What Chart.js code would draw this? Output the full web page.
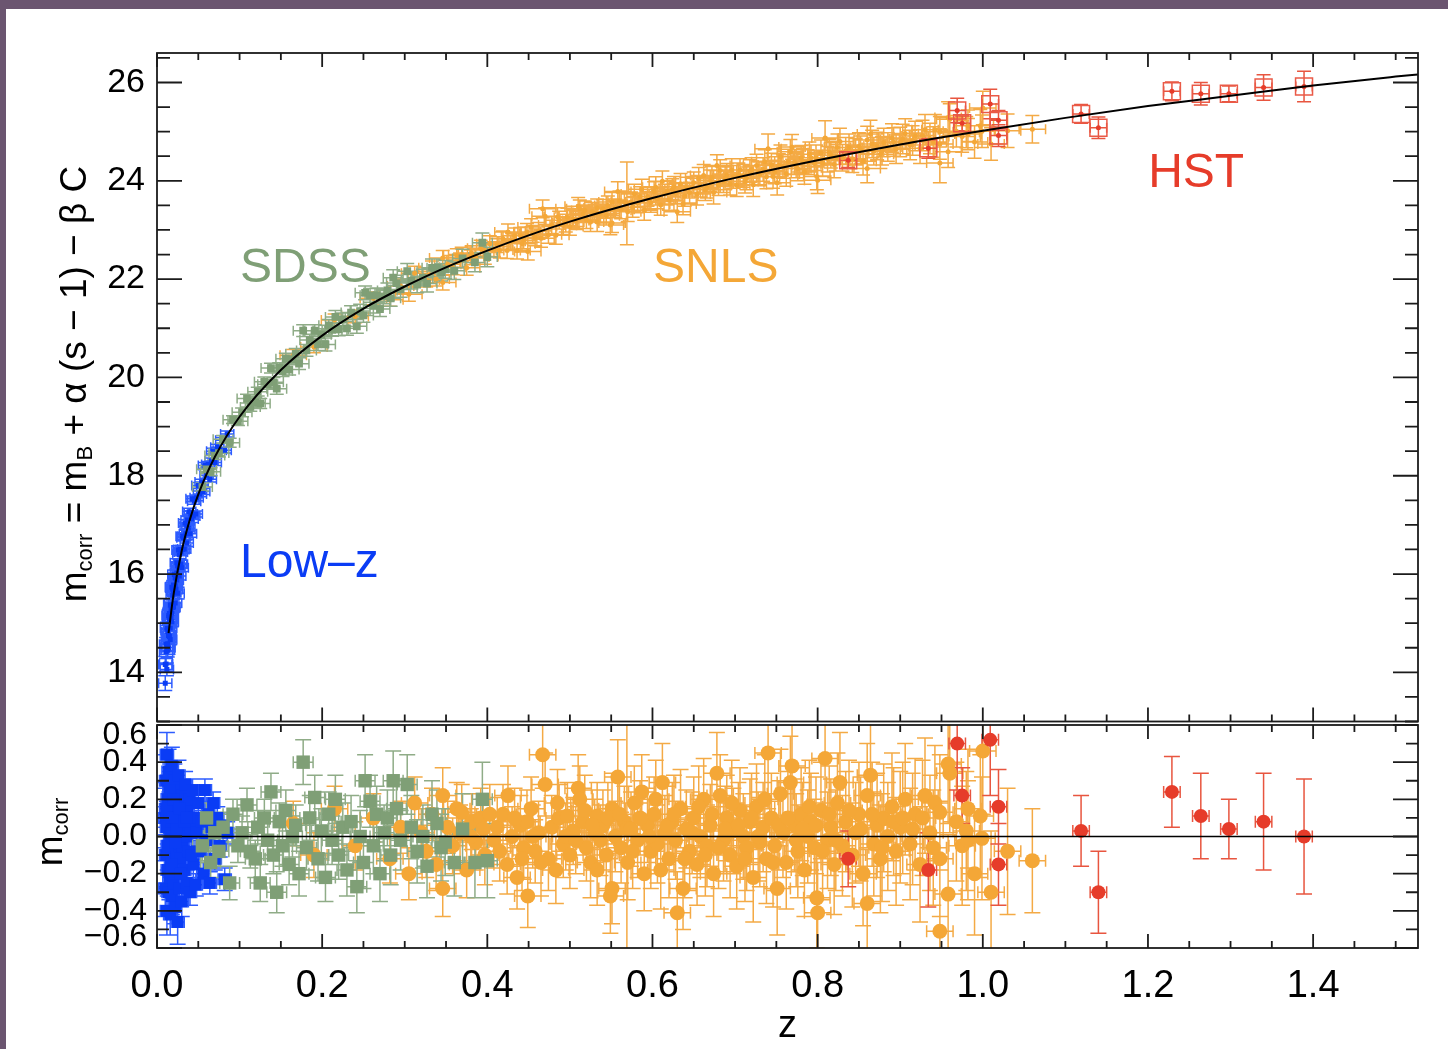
<!DOCTYPE html>
<html>
<head>
<meta charset="utf-8">
<script src="https://cdn.jsdelivr.net/npm/chart.js@4.4.1/dist/chart.umd.min.js"></script>
<style>
  html, body { margin: 0; padding: 0; }
  body { width: 1448px; height: 1049px; background: #6b5570; position: relative; overflow: hidden; }
  #paper { position: absolute; left: 6px; top: 9px; right: 0; bottom: 0; background: #fff; }
  canvas { position: absolute; left: 0; }
  #hubble { top: 0; }
  #resid { top: 715px; }
</style>
</head>
<body>
<div id="paper"></div>
<canvas id="hubble" width="1448" height="735"></canvas>
<canvas id="resid" width="1448" height="334"></canvas>
<script>
// ticks
const zTicks = [0.0, 0.2, 0.4, 0.6, 0.8, 1.0, 1.2, 1.4];
const magTicks = [14, 16, 18, 20, 22, 24, 26];
const resTicks = [-0.6, -0.4, -0.2, 0.0, 0.2, 0.4, 0.6];

// best-fit curve
const curveZ   = [0.014, 0.02, 0.03, 0.04, 0.05, 0.07, 0.1, 0.15, 0.2, 0.25, 0.3, 0.35, 0.4, 0.45, 0.5, 0.6, 0.7, 0.8, 0.9, 1.0, 1.1, 1.2, 1.3, 1.4, 1.5, 1.53];
const curveMag = [14.80, 15.58, 16.48, 17.12, 17.62, 18.38, 19.20, 20.15, 20.85, 21.40, 21.85, 22.24, 22.58, 22.89, 23.17, 23.65, 24.06, 24.42, 24.74, 25.02, 25.28, 25.52, 25.73, 25.94, 26.12, 26.17];

// redshift errors per sample
const lowzZerr = 0.008, sdssZerr = 0.012, snlsZerr = 0.016, hstZerr = 0.010;

// rows: [z, m_corr, residual, error]
const lowz = [
  [0.010,14.16,0.10,0.16],[0.010,13.78,-0.28,0.15],[0.011,14.57,0.30,0.14],[0.011,14.17,-0.10,0.15],
  [0.012,14.90,0.44,0.12],[0.012,14.51,0.05,0.14],[0.012,14.06,-0.40,0.13],[0.013,14.83,0.20,0.13],
  [0.013,14.45,-0.18,0.14],[0.014,15.15,0.35,0.12],[0.014,14.75,-0.05,0.12],[0.014,14.50,-0.30,0.13],
  [0.015,15.07,0.12,0.12],[0.015,14.73,-0.22,0.12],[0.016,15.37,0.28,0.11],[0.016,15.09,0.00,0.11],
  [0.016,14.67,-0.42,0.11],[0.017,15.37,0.15,0.11],[0.017,15.10,-0.12,0.10],[0.018,15.73,0.38,0.10],
  [0.018,15.33,-0.02,0.10],[0.018,15.03,-0.32,0.10],[0.019,15.69,0.22,0.10],[0.019,15.32,-0.15,0.10],
  [0.020,15.66,0.08,0.09],[0.020,15.33,-0.25,0.10],[0.021,15.99,0.30,0.09],[0.021,15.63,-0.06,0.09],
  [0.022,15.93,0.14,0.09],[0.022,15.41,-0.38,0.09],[0.023,15.91,0.02,0.09],[0.023,15.69,-0.20,0.09],
  [0.024,16.23,0.25,0.08],[0.024,15.88,-0.10,0.09],[0.025,16.17,0.10,0.08],[0.025,15.61,-0.46,0.12],
  [0.026,16.14,-0.02,0.08],[0.026,16.49,0.33,0.08],[0.027,15.96,-0.28,0.08],[0.028,16.50,0.18,0.08],
  [0.028,16.20,-0.12,0.08],[0.029,16.45,0.05,0.08],[0.030,16.13,-0.35,0.08],[0.031,16.77,0.22,0.07],
  [0.031,16.50,-0.05,0.08],[0.032,16.74,0.12,0.07],[0.033,16.51,-0.18,0.07],[0.034,17.04,0.28,0.07],
  [0.035,16.82,0.00,0.07],[0.036,16.63,-0.25,0.07],[0.037,17.10,0.15,0.07],[0.038,16.93,-0.08,0.07],
  [0.039,17.27,0.20,0.07],[0.040,16.82,-0.30,0.07],[0.041,17.22,0.05,0.07],[0.043,17.53,0.25,0.06],
  [0.044,17.18,-0.15,0.07],[0.045,17.48,0.10,0.06],[0.047,17.22,-0.26,0.06],[0.048,17.55,0.02,0.06],
  [0.050,17.80,0.18,0.06],[0.052,17.63,-0.08,0.06],[0.054,17.87,0.08,0.06],[0.056,17.68,-0.20,0.06],
  [0.058,18.21,0.25,0.06],[0.060,18.01,-0.02,0.06],[0.062,18.23,0.12,0.06],[0.064,17.93,-0.25,0.06],
  [0.066,18.30,0.05,0.06],[0.068,18.50,0.18,0.06],[0.070,18.27,-0.12,0.06],[0.073,18.58,0.10,0.06],
  [0.076,18.52,-0.05,0.06],[0.079,18.72,0.06,0.06],[0.082,18.52,-0.23,0.06],[0.085,18.85,0.02,0.06],
  [0.011,14.42,0.15,0.14],[0.013,14.58,-0.05,0.13],[0.015,15.20,0.25,0.12],[0.016,14.90,-0.19,0.11],
  [0.017,15.30,0.08,0.11],[0.018,15.20,-0.15,0.10],[0.019,15.57,0.10,0.10],[0.020,15.78,0.20,0.09],
  [0.022,15.76,-0.03,0.09],[0.024,16.02,0.04,0.08],[0.027,16.39,0.15,0.08],[0.029,16.20,-0.20,0.08],
  [0.033,16.77,0.08,0.07],[0.036,16.98,0.10,0.07],[0.042,17.12,-0.10,0.07]
];

const sdss = [
  [0.055,17.77,-0.05,0.08],[0.060,18.13,0.10,0.08],[0.065,18.08,-0.14,0.08],[0.070,18.41,0.02,0.08],
  [0.075,18.46,-0.08,0.08],[0.080,18.74,0.05,0.08],[0.088,18.67,-0.25,0.09],[0.092,19.14,0.12,0.08],
  [0.098,19.11,-0.05,0.09],[0.103,19.29,0.02,0.09],[0.109,19.57,0.17,0.09],[0.113,19.40,-0.08,0.09],
  [0.119,19.49,-0.12,0.10],[0.122,19.71,0.05,0.09],[0.125,19.47,-0.25,0.10],[0.130,19.91,0.10,0.10],
  [0.134,19.86,-0.02,0.10],[0.138,20.19,0.24,0.10],[0.141,19.90,-0.10,0.10],[0.145,19.77,-0.30,0.11],
  [0.148,20.20,0.08,0.10],[0.152,20.13,-0.05,0.11],[0.156,20.38,0.14,0.11],[0.160,20.16,-0.15,0.11],
  [0.164,20.37,0.00,0.11],[0.168,20.48,0.06,0.11],[0.172,20.28,-0.20,0.12],[0.177,20.95,0.40,0.12],
  [0.181,20.55,-0.06,0.12],[0.185,20.76,0.10,0.12],[0.191,20.95,0.21,0.12],[0.195,20.67,-0.12,0.12],
  [0.199,20.87,0.03,0.12],[0.204,20.67,-0.22,0.13],[0.208,21.06,0.12,0.12],[0.212,20.97,-0.02,0.13],
  [0.216,21.23,0.20,0.13],[0.220,20.98,-0.10,0.13],[0.225,21.18,0.05,0.13],[0.230,21.00,-0.18,0.14],
  [0.235,21.32,0.08,0.14],[0.242,21.04,-0.27,0.14],[0.246,21.35,0.00,0.14],[0.250,21.26,-0.14,0.14],
  [0.252,21.72,0.30,0.14],[0.258,21.67,0.19,0.14],[0.262,21.46,-0.05,0.15],[0.266,21.67,0.12,0.15],
  [0.270,21.39,-0.20,0.15],[0.275,21.65,0.02,0.15],[0.279,21.77,0.10,0.15],[0.283,21.61,-0.10,0.16],
  [0.286,22.03,0.30,0.16],[0.290,21.92,0.15,0.16],[0.295,21.79,-0.02,0.16],[0.303,22.16,0.28,0.16],
  [0.308,21.97,0.05,0.17],[0.315,21.89,-0.08,0.17],[0.322,22.03,0.00,0.17],[0.327,21.91,-0.16,0.17],
  [0.333,22.23,0.12,0.18],[0.339,22.23,0.07,0.18],[0.344,22.14,-0.06,0.18],[0.349,22.20,-0.03,0.18],
  [0.360,22.17,-0.14,0.18],[0.370,22.42,0.04,0.19],[0.385,22.34,-0.14,0.19],[0.394,22.74,0.20,0.20],
  [0.400,22.45,-0.13,0.20]
];

const snls = [
  [0.165,20.45,0.07,0.12],[0.190,20.62,-0.10,0.12],[0.215,21.17,0.15,0.12],[0.240,21.24,-0.05,0.13],
  [0.262,21.61,0.10,0.13],[0.282,21.58,-0.12,0.13],[0.295,21.86,0.05,0.14],[0.305,21.69,-0.20,0.14],
  [0.312,22.12,0.18,0.14],[0.320,22.03,0.02,0.13],[0.326,21.98,-0.08,0.14],[0.333,22.23,0.12,0.14],
  [0.338,22.00,-0.15,0.14],[0.346,22.43,0.22,0.15],[0.346,21.93,-0.28,0.15],[0.352,22.30,0.05,0.14],
  [0.358,22.24,-0.05,0.15],[0.363,22.48,0.15,0.14],[0.367,22.38,0.02,0.15],[0.369,22.50,0.13,0.15],
  [0.375,22.23,-0.18,0.15],[0.381,22.53,0.08,0.15],[0.386,22.45,-0.03,0.15],[0.392,22.63,0.10,0.16],
  [0.397,22.46,-0.10,0.16],[0.403,22.72,0.12,0.16],[0.408,22.61,-0.02,0.15],[0.412,22.70,0.05,0.16],
  [0.419,22.82,0.12,0.16],[0.424,22.58,-0.15,0.16],[0.425,22.96,0.22,0.16],[0.430,22.77,0.00,0.16],
  [0.436,22.58,-0.22,0.17],[0.440,22.89,0.06,0.16],[0.444,22.79,-0.06,0.17],[0.448,22.96,0.08,0.17],
  [0.449,22.56,-0.32,0.17],[0.453,23.06,0.15,0.17],[0.458,22.85,-0.08,0.17],[0.462,22.98,0.02,0.17],
  [0.467,23.43,0.44,0.18],[0.470,23.28,0.28,0.17],[0.474,22.90,-0.12,0.17],[0.478,23.10,0.05,0.17],
  [0.483,22.89,-0.18,0.18],[0.487,23.20,0.10,0.18],[0.492,23.09,-0.04,0.18],[0.497,23.26,0.11,0.18],
  [0.500,23.07,-0.10,0.18],[0.504,23.22,0.03,0.18],[0.510,23.48,0.26,0.18],[0.512,23.43,0.20,0.18],
  [0.516,23.33,0.08,0.18],[0.520,23.21,-0.06,0.18],[0.525,23.16,-0.14,0.19],[0.530,23.34,0.02,0.18],
  [0.533,23.16,-0.18,0.19],[0.533,23.45,0.11,0.18],[0.537,23.34,-0.02,0.19],[0.540,23.43,0.06,0.19],
  [0.544,23.29,-0.10,0.19],[0.549,23.10,-0.32,0.20],[0.551,23.57,0.15,0.19],[0.551,23.14,-0.28,0.19],
  [0.555,23.44,0.00,0.19],[0.558,23.78,0.32,0.20],[0.562,23.42,-0.06,0.19],[0.566,23.57,0.08,0.19],
  [0.569,23.54,0.04,0.84],[0.570,23.37,-0.14,0.20],[0.574,23.57,0.04,0.20],[0.578,23.73,0.18,0.20],
  [0.582,23.55,-0.02,0.20],[0.587,23.83,0.24,0.20],[0.590,23.40,-0.20,0.20],[0.594,23.68,0.06,0.20],
  [0.598,23.56,-0.08,0.20],[0.602,23.78,0.12,0.20],[0.606,23.64,-0.04,0.21],[0.612,23.99,0.29,0.21],
  [0.615,23.73,0.02,0.20],[0.620,23.61,-0.12,0.21],[0.624,23.83,0.08,0.21],[0.628,23.75,-0.02,0.21],
  [0.630,23.37,-0.41,0.22],[0.634,23.94,0.15,0.21],[0.637,23.53,-0.28,0.22],[0.641,23.86,0.04,0.21],
  [0.645,23.76,-0.08,0.21],[0.650,23.96,0.10,0.22],[0.654,23.73,-0.15,0.22],[0.658,23.89,0.00,0.22],
  [0.662,24.11,0.20,0.22],[0.666,23.87,-0.05,0.22],[0.670,24.00,0.06,0.22],[0.674,23.76,-0.20,0.23],
  [0.678,24.31,0.34,0.22],[0.682,24.21,0.22,0.22],[0.686,23.98,-0.02,0.22],[0.690,24.12,0.10,0.23],
  [0.694,23.94,-0.10,0.23],[0.698,24.08,0.03,0.23],[0.702,23.91,-0.16,0.23],[0.706,24.22,0.14,0.23],
  [0.710,24.10,0.00,0.23],[0.714,24.05,-0.06,0.23],[0.718,24.20,0.08,0.23],[0.722,23.92,-0.22,0.24],
  [0.726,24.31,0.16,0.23],[0.730,24.14,-0.03,0.24],[0.734,24.23,0.05,0.24],[0.738,24.08,-0.12,0.24],
  [0.740,24.65,0.45,0.30],[0.744,24.32,0.10,0.24],[0.748,24.18,-0.05,0.24],[0.751,23.96,-0.28,0.25],
  [0.755,24.49,0.23,0.24],[0.758,24.29,0.02,0.24],[0.762,24.14,-0.14,0.25],[0.767,24.59,0.29,0.25],
  [0.769,24.69,0.38,0.25],[0.772,24.38,0.06,0.25],[0.776,24.25,-0.08,0.25],[0.780,24.47,0.12,0.25],
  [0.784,24.18,-0.18,0.25],[0.788,24.38,0.00,0.25],[0.792,24.47,0.08,0.26],[0.796,24.35,-0.06,0.26],
  [0.799,24.09,-0.33,0.27],[0.800,24.01,-0.41,0.27],[0.804,24.57,0.14,0.26],[0.809,24.87,0.42,0.35],
  [0.812,24.44,-0.02,0.26],[0.816,24.52,0.05,0.26],[0.820,24.33,-0.15,0.27],[0.824,24.68,0.18,0.27],
  [0.827,24.80,0.29,0.27],[0.830,24.47,-0.05,0.27],[0.834,24.61,0.08,0.27],[0.842,24.45,-0.10,0.28],
  [0.846,24.59,0.02,0.27],[0.850,24.70,0.12,0.28],[0.855,24.40,-0.20,0.28],[0.860,24.83,0.22,0.28],
  [0.860,24.25,-0.36,0.29],[0.864,24.95,0.33,0.28],[0.868,24.60,-0.04,0.28],[0.872,24.71,0.06,0.28],
  [0.876,24.54,-0.12,0.29],[0.880,24.78,0.10,0.29],[0.885,24.69,0.00,0.29],[0.890,24.87,0.16,0.29],
  [0.895,24.64,-0.08,0.29],[0.900,24.79,0.05,0.30],[0.906,24.96,0.20,0.30],[0.912,24.73,-0.04,0.30],
  [0.918,24.91,0.12,0.30],[0.924,24.66,-0.15,0.31],[0.930,25.04,0.22,0.31],[0.936,24.86,0.02,0.31],
  [0.942,25.04,0.18,0.31],[0.948,25.00,0.13,0.31],[0.948,24.75,-0.12,0.31],[0.948,24.36,-0.51,0.40],
  [0.958,25.29,0.39,0.32],[0.958,24.59,-0.31,0.32],[0.960,25.25,0.34,0.32],[0.968,25.01,0.08,0.32],
  [0.975,24.90,-0.05,0.32],[0.980,24.99,0.03,0.32],[0.982,25.12,0.15,0.32],[0.982,24.95,-0.02,0.32],
  [0.990,24.79,-0.20,0.33],[0.997,25.12,0.11,0.33],[0.999,25.01,-0.01,0.33],[1.000,25.48,0.46,0.34],
  [1.010,24.75,-0.30,0.33],[1.030,25.02,-0.08,0.34],[1.060,25.05,-0.13,0.28],
  [0.380,22.44,0.00,0.15],[0.395,22.59,0.04,0.16],[0.415,22.59,-0.08,0.16],[0.433,22.88,0.10,0.16],
  [0.442,22.72,-0.12,0.17],[0.455,22.92,0.00,0.17],[0.465,22.83,-0.14,0.18],[0.485,23.27,0.18,0.18],
  [0.495,23.14,0.00,0.18],[0.507,23.19,-0.02,0.18],[0.518,23.40,0.14,0.19],[0.527,23.37,0.06,0.19],
  [0.546,23.50,0.10,0.19],[0.560,23.59,0.12,0.20],[0.576,23.46,-0.08,0.20],[0.585,23.68,0.10,0.20],
  [0.596,23.63,0.00,0.20],[0.604,23.87,0.20,0.21],[0.610,23.51,-0.18,0.21],[0.618,23.79,0.06,0.21],
  [0.626,23.88,0.12,0.21],[0.639,23.69,-0.12,0.21],[0.648,23.87,0.02,0.22],[0.656,24.05,0.16,0.22],
  [0.664,23.82,-0.10,0.22],[0.672,24.07,0.12,0.22],[0.680,23.92,-0.06,0.22],[0.688,24.05,0.04,0.23],
  [0.696,24.22,0.18,0.23],[0.704,24.13,0.06,0.23],[0.712,23.98,-0.12,0.23],[0.720,24.23,0.10,0.24],
  [0.728,24.16,0.00,0.24],[0.736,24.39,0.20,0.24],[0.746,24.09,-0.14,0.24],[0.753,24.31,0.06,0.24],
  [0.764,24.39,0.10,0.25],[0.774,24.31,-0.02,0.25],[0.782,24.40,0.04,0.25],[0.790,24.54,0.16,0.25],
  [0.798,24.47,0.06,0.26],[0.806,24.36,-0.08,0.26],[0.814,24.58,0.12,0.26],[0.822,24.47,-0.02,0.27],
  [0.838,24.68,0.14,0.27],[0.852,24.63,0.04,0.28],[0.866,24.75,0.12,0.28],[0.878,24.61,-0.06,0.29],
  [0.892,24.79,0.08,0.29],[0.903,24.85,0.10,0.30],[0.915,24.82,0.04,0.30],[0.927,24.92,0.10,0.31],
  [0.940,24.79,-0.06,0.31]
];

const hst = [
  [0.837,24.42,-0.12,0.15],[0.934,24.66,-0.18,0.20],[0.969,25.43,0.50,0.25],[0.975,25.17,0.22,0.15],
  [1.009,25.56,0.52,0.30],[1.019,25.23,0.16,0.20],[1.019,24.92,-0.15,0.22],[1.119,25.36,0.03,0.19],
  [1.140,25.08,-0.30,0.22],[1.229,25.82,0.24,0.19],[1.264,25.77,0.11,0.23],[1.298,25.77,0.04,0.16],
  [1.340,25.90,0.08,0.26],[1.389,25.92,0.00,0.31]
];

const FONT = '"Liberation Sans", Arial, Helvetica, sans-serif';
Chart.defaults.font.family = FONT;
Chart.defaults.color = '#000';

const BLUE = '#0a3cf5', GREEN = '#7f9f76', ORANGE = '#f4a737', RED = '#e63c2a';
const BLUE_BAR = '#2d5cff', GREEN_BAR = '#8fac87', ORANGE_BAR = '#f4aa45', RED_BAR = '#e8553f';

const toPts = (rows, col) => rows.map(r => ({ x: r[0], y: r[col], e: r[3] }));

// error bars, drawn under the markers
function errorBarPlugin(capV, capH) {
  return {
    id: 'errorBars',
    beforeDatasetsDraw(chart) {
      const { ctx, chartArea: a, scales: { x, y } } = chart;
      ctx.save();
      ctx.beginPath();
      ctx.rect(a.left, a.top, a.right - a.left, a.bottom - a.top);
      ctx.clip();
      ctx.lineWidth = 1.5;
      const sets = chart.data.datasets.filter(d => d.errColor).sort((p, q) => q.order - p.order);
      sets.forEach(ds => {
        ctx.strokeStyle = ds.errColor;
        ctx.beginPath();
        ds.data.forEach(p => {
          const px = x.getPixelForValue(p.x), py = y.getPixelForValue(p.y);
          const y1 = y.getPixelForValue(p.y + p.e), y2 = y.getPixelForValue(p.y - p.e);
          ctx.moveTo(px, y1); ctx.lineTo(px, y2);
          ctx.moveTo(px - capV, y1); ctx.lineTo(px + capV, y1);
          ctx.moveTo(px - capV, y2); ctx.lineTo(px + capV, y2);
          const x1 = x.getPixelForValue(p.x - ds.zErr), x2 = x.getPixelForValue(p.x + ds.zErr);
          ctx.moveTo(x1, py); ctx.lineTo(x2, py);
          ctx.moveTo(x1, py - capH); ctx.lineTo(x1, py + capH);
          ctx.moveTo(x2, py - capH); ctx.lineTo(x2, py + capH);
        });
        ctx.stroke();
      });
      ctx.restore();
    }
  };
}

// box with inward ticks on all four sides
function framePlugin(cfg) {
  const isMajor = (list, v) => list.some(m => Math.abs(m - v) < 1e-6);
  return {
    id: 'frame',
    afterDraw(chart) {
      const { ctx, chartArea: a, scales: { x, y } } = chart;
      ctx.save();
      ctx.strokeStyle = '#1b1b1b';
      ctx.lineWidth = 1.8;
      ctx.beginPath();
      for (let k = Math.ceil(x.min / cfg.xStep - 1e-6); k * cfg.xStep <= x.max + 1e-9; k++) {
        const v = k * cfg.xStep;
        const len = isMajor(cfg.xMajor, v) ? cfg.xLen[0] : cfg.xLen[1];
        const px = x.getPixelForValue(v);
        ctx.moveTo(px, a.top); ctx.lineTo(px, a.top + len);
        ctx.moveTo(px, a.bottom); ctx.lineTo(px, a.bottom - len);
      }
      for (let k = Math.ceil(y.min / cfg.yStep - 1e-6); k * cfg.yStep <= y.max + 1e-9; k++) {
        const v = k * cfg.yStep;
        const len = isMajor(cfg.yMajor, v) ? cfg.yLen[0] : cfg.yLen[1];
        const py = y.getPixelForValue(v);
        ctx.moveTo(a.left, py); ctx.lineTo(a.left + len, py);
        ctx.moveTo(a.right, py); ctx.lineTo(a.right - len, py);
      }
      ctx.stroke();
      ctx.strokeRect(a.left, a.top, a.right - a.left, a.bottom - a.top);
      ctx.restore();
    }
  };
}

// rotated axis title with subscripts
function yTitlePlugin(parts, cx, cy, size, subSize, subDy) {
  return {
    id: 'yTitle',
    afterDraw(chart) {
      const ctx = chart.ctx;
      ctx.save();
      ctx.translate(cx, cy);
      ctx.rotate(-Math.PI / 2);
      ctx.fillStyle = '#000';
      ctx.textBaseline = 'alphabetic';
      const widths = parts.map(p => {
        ctx.font = (p[1] ? subSize : size) + 'px ' + FONT;
        return ctx.measureText(p[0]).width;
      });
      let pos = -widths.reduce((s, w) => s + w, 0) / 2;
      parts.forEach((p, i) => {
        ctx.font = (p[1] ? subSize : size) + 'px ' + FONT;
        ctx.fillText(p[0], pos, p[1] ? subDy : 0);
        pos += widths[i];
      });
      ctx.restore();
    }
  };
}

// survey names inside the top panel
const tagPlugin = {
  id: 'tags',
  afterDatasetsDraw(chart) {
    const { ctx, scales: { x, y } } = chart;
    const tags = [
      ['SDSS', 0.1005, 21.945, GREEN],
      ['SNLS', 0.6007, 21.945, ORANGE],
      ['HST', 1.2002, 23.87, RED],
      ['Low\u2013z', 0.1005, 15.93, BLUE]
    ];
    ctx.save();
    ctx.font = '48px ' + FONT;
    ctx.textAlign = 'left';
    ctx.textBaseline = 'alphabetic';
    tags.forEach(t => {
      ctx.fillStyle = t[3];
      ctx.fillText(t[0], x.getPixelForValue(t[1]), y.getPixelForValue(t[2]));
    });
    ctx.restore();
  }
};

// zero line and squeezed tick labels of the residual panel
const residDecor = {
  id: 'residDecor',
  afterDatasetsDraw(chart) {
    const { ctx, chartArea: a, scales: { y } } = chart;
    const y0 = y.getPixelForValue(0);
    ctx.save();
    ctx.strokeStyle = '#000';
    ctx.lineWidth = 1.6;
    ctx.beginPath();
    ctx.moveTo(a.left, y0); ctx.lineTo(a.right, y0);
    ctx.stroke();
    ctx.restore();
  },
  afterDraw(chart) {
    const { ctx, chartArea: a, scales: { y } } = chart;
    ctx.save();
    ctx.font = '32px ' + FONT;
    ctx.fillStyle = '#000';
    ctx.textAlign = 'right';
    ctx.textBaseline = 'middle';
    resTicks.forEach(v => {
      const py = Math.min(Math.max(y.getPixelForValue(v), a.top + 10), a.bottom - 11);
      const txt = v < 0 ? '\u2212' + Math.abs(v).toFixed(1) : v.toFixed(1);
      ctx.fillText(txt, a.left - 10, py);
    });
    ctx.restore();
  }
};

// ---- top panel: Hubble diagram ----
new Chart(document.getElementById('hubble'), {
  type: 'scatter',
  data: {
    datasets: [
      { type: 'line', data: curveZ.map((z, i) => ({ x: z, y: curveMag[i] })), borderColor: '#000', borderWidth: 2,
        pointRadius: 0, cubicInterpolationMode: 'monotone', fill: false, order: 0 },
      { data: toPts(hst, 1), pointStyle: 'circle', pointRadius: 2.5, backgroundColor: RED, borderWidth: 0,
        order: 1, errColor: RED_BAR, zErr: hstZerr },
      { data: toPts(hst, 1), pointStyle: 'rect', pointRadius: 12, backgroundColor: 'rgba(0,0,0,0)',
        borderColor: '#ea5a47', borderWidth: 1.5, order: 2 },
      { data: toPts(sdss, 1), pointStyle: 'rect', pointRadius: 5.5, backgroundColor: GREEN, borderWidth: 0,
        order: 3, errColor: GREEN_BAR, zErr: sdssZerr },
      { data: toPts(snls, 1), pointStyle: 'circle', pointRadius: 2.5, backgroundColor: ORANGE, borderWidth: 0,
        order: 4, errColor: ORANGE_BAR, zErr: snlsZerr },
      { data: toPts(lowz, 1), pointStyle: 'rect', pointRadius: 3.5, backgroundColor: BLUE, borderWidth: 0,
        order: 5, errColor: BLUE_BAR, zErr: lowzZerr }
    ]
  },
  options: {
    responsive: false,
    animation: false,
    events: [],
    layout: { padding: { left: 0, top: 53, right: 30, bottom: 10 } },
    plugins: { legend: { display: false }, tooltip: { enabled: false } },
    scales: {
      x: { type: 'linear', min: 0, max: 1.527, display: false },
      y: {
        type: 'linear', min: 13, max: 26.6,
        grid: { display: false, drawTicks: false },
        border: { display: false },
        afterBuildTicks: s => { s.ticks = magTicks.map(v => ({ value: v })); },
        afterFit: s => { s.width = 157; s.paddingTop = 0; s.paddingBottom = 0; },
        ticks: { font: { size: 34 }, color: '#000', padding: 12, callback: v => String(v) }
      }
    }
  },
  plugins: [
    errorBarPlugin(7, 5),
    tagPlugin,
    framePlugin({ xStep: 0.05, xMajor: zTicks, xLen: [14, 7], yStep: 0.5, yMajor: magTicks, yLen: [25, 13] }),
    yTitlePlugin([['m', 0], ['corr', 1], [' = m', 0], ['B', 1], [' + \u03b1 (s \u2212 1) \u2212 \u03b2 C', 0]],
      86, 384, 37, 22, 6)
  ]
});

// ---- bottom panel: residuals ----
new Chart(document.getElementById('resid'), {
  type: 'scatter',
  data: {
    datasets: [
      { data: toPts(hst, 2), pointStyle: 'circle', pointRadius: 7, backgroundColor: RED, borderWidth: 0,
        order: 1, errColor: RED_BAR, zErr: hstZerr },
      { data: toPts(sdss, 2), pointStyle: 'rect', pointRadius: 9.5, backgroundColor: GREEN, borderWidth: 0,
        order: 2, errColor: GREEN_BAR, zErr: sdssZerr },
      { data: toPts(snls, 2), pointStyle: 'circle', pointRadius: 7.5, backgroundColor: ORANGE, borderWidth: 0,
        order: 3, errColor: ORANGE_BAR, zErr: snlsZerr },
      { data: toPts(lowz, 2), pointStyle: 'rect', pointRadius: 8.5, backgroundColor: BLUE, borderWidth: 0,
        order: 4, errColor: BLUE_BAR, zErr: lowzZerr }
    ]
  },
  options: {
    responsive: false,
    animation: false,
    events: [],
    layout: { padding: { left: 157, top: 10, right: 30, bottom: 0 } },
    plugins: { legend: { display: false }, tooltip: { enabled: false } },
    scales: {
      x: {
        type: 'linear', min: 0, max: 1.527,
        grid: { display: false, drawTicks: false },
        border: { display: false },
        afterBuildTicks: s => { s.ticks = zTicks.map(v => ({ value: v })); },
        afterFit: s => { s.height = 101; },
        ticks: { font: { size: 38 }, color: '#000', padding: 16, autoSkip: false, maxRotation: 0,
          callback: v => v.toFixed(1) },
        title: { display: true, text: 'z', font: { size: 38 }, color: '#000', padding: { top: 0, bottom: 0 } }
      },
      y: { type: 'linear', min: -0.6, max: 0.6, display: false }
    }
  },
  plugins: [
    errorBarPlugin(8, 6),
    residDecor,
    framePlugin({ xStep: 0.05, xMajor: zTicks, xLen: [14, 7], yStep: 0.1, yMajor: resTicks, yLen: [25, 12] }),
    yTitlePlugin([['m', 0], ['corr', 1]], 62, 117, 37, 22, 6)
  ]
});
</script>
</body>
</html>
